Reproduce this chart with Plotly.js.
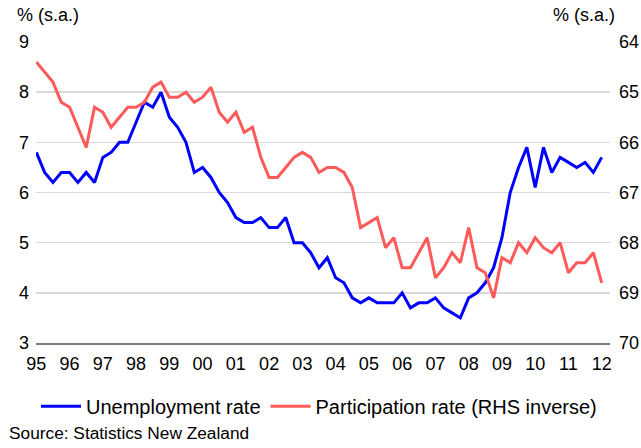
<!DOCTYPE html>
<html>
<head>
<meta charset="utf-8">
<script src="https://cdn.plot.ly/plotly-3.0.1.min.js"></script>
<style>html,body{margin:0;padding:0;background:#fff}#chart{width:641px;height:448px}</style>
</head>
<body>
<div id="chart"></div>
<script>
// Quarterly, 1995 Q1 to 2012 Q1
var startYear = 1995;
var unemployment = [6.8,6.4,6.2,6.4,6.4,6.2,6.4,6.2,6.7,6.8,7.0,7.0,7.4,7.8,7.7,8.0,
  7.5,7.3,7.0,6.4,6.5,6.3,6.0,5.8,5.5,5.4,5.4,5.5,5.3,5.3,5.5,5.0,5.0,4.8,4.5,4.7,
  4.3,4.2,3.9,3.8,3.9,3.8,3.8,3.8,4.0,3.7,3.8,3.8,3.9,3.7,3.6,3.5,3.9,4.0,4.2,4.5,
  5.1,6.0,6.5,6.9,6.1,6.9,6.4,6.7,6.6,6.5,6.6,6.4,6.7];
var participation = [64.4,64.6,64.8,65.2,65.3,65.7,66.1,65.3,65.4,65.7,65.5,65.3,65.3,65.2,64.9,64.8,
  65.1,65.1,65.0,65.2,65.1,64.9,65.4,65.6,65.4,65.8,65.7,66.3,66.7,66.7,66.5,66.3,66.2,66.3,66.6,66.5,
  66.5,66.6,66.9,67.7,67.6,67.5,68.1,67.9,68.5,68.5,68.2,67.9,68.7,68.5,68.2,68.4,67.7,68.5,68.6,69.1,
  68.3,68.4,68.0,68.2,67.9,68.1,68.2,68.0,68.6,68.4,68.4,68.2,68.8];
var tickYears = [1995,1996,1997,1998,1999,2000,2001,2002,2003,2004,2005,2006,2007,2008,2009,2010,2011,2012];
var tickLabels = ["95","96","97","98","99","00","01","02","03","04","05","06","07","08","09","10","11","12"];
var leftTicks = [3,4,5,6,7,8,9];
var rightTicks = [64,65,66,67,68,69,70];

var xq = unemployment.map(function(_, i){ return startYear + i*0.25; });

var font = "Liberation Sans, Arial, sans-serif";
var traces = [
  {x: xq, y: unemployment, type: 'scatter', mode: 'lines', name: 'Unemployment rate',
   line: {color: '#0000ff', width: 3}, yaxis: 'y'},
  {x: xq, y: participation, type: 'scatter', mode: 'lines', name: 'Participation rate (RHS inverse)',
   line: {color: '#ff5a5a', width: 3}, yaxis: 'y2'}
];

var layout = {
  width: 641, height: 448,
  margin: {l: 36, r: 31, t: 42, b: 105},
  paper_bgcolor: '#fff', plot_bgcolor: '#fff',
  font: {family: font, size: 18, color: '#000'},
  showlegend: true,
  legend: {orientation: 'h', x: 0.0, y: -0.145, xanchor: 'left', yanchor: 'top',
           font: {family: font, size: 20, color: '#000'}, itemwidth: 40, tracegroupgap: 0,
           bgcolor: 'rgba(0,0,0,0)'},
  xaxis: {range: [1994.99, 2012.25], tickmode: 'array', tickvals: tickYears, ticktext: tickLabels,
          showgrid: false, zeroline: false, showline: true, linecolor: '#808080', linewidth: 1.5,
          ticks: '', ticklabelstandoff: 4, tickfont: {family: font, size: 18}, fixedrange: true},
  yaxis: {range: [3, 9], tickmode: 'array', tickvals: leftTicks, showgrid: true, gridcolor: '#d9d9d9',
          gridwidth: 1.5, zeroline: false, showline: false, ticks: '', ticklabelstandoff: 6,
          tickfont: {family: font, size: 18}},
  yaxis2: {range: [70, 64], overlaying: 'y', side: 'right', tickmode: 'array', tickvals: rightTicks,
           showgrid: false, zeroline: false, showline: false, ticks: '', ticklabelstandoff: 8,
           tickfont: {family: font, size: 18}},
  annotations: [
    {text: '% (s.a.)', xref: 'paper', yref: 'paper', x: -0.037, y: 1.0, yshift: 27, xanchor: 'left', yanchor: 'middle',
     showarrow: false, font: {family: font, size: 18}},
    {text: '% (s.a.)', xref: 'paper', yref: 'paper', x: 1.012, y: 1.0, yshift: 27, xanchor: 'right', yanchor: 'middle',
     showarrow: false, font: {family: font, size: 18}},
    {text: 'Source: Statistics New Zealand', xref: 'paper', yref: 'paper', x: -0.05, y: 0, yshift: -90,
     xanchor: 'left', yanchor: 'middle', showarrow: false, font: {family: font, size: 17.3}}
  ]
};

Plotly.newPlot('chart', traces, layout, {displayModeBar: false, staticPlot: true});
</script>
</body>
</html>
